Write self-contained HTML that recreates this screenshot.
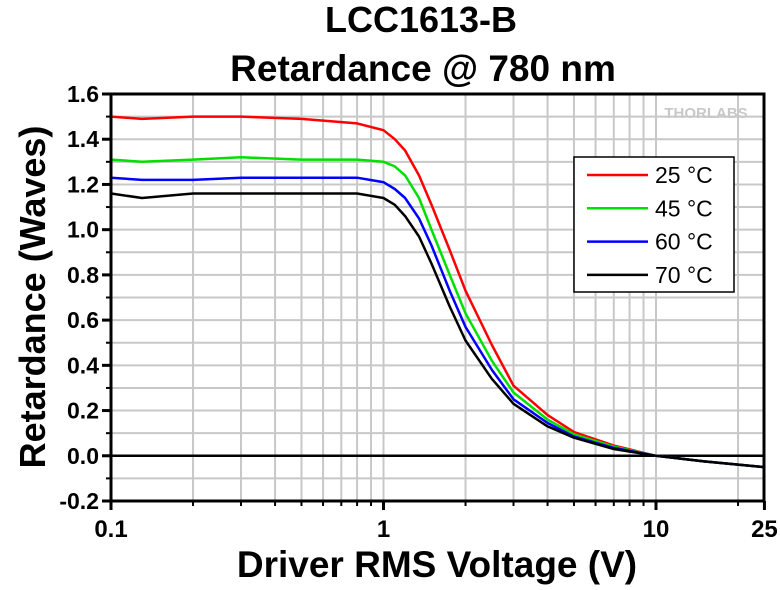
<!DOCTYPE html>
<html><head><meta charset="utf-8"><style>
body{margin:0;background:#fff;}
svg text{font-family:"Liberation Sans",Arial,sans-serif;}
</style></head><body>
<svg id="chart" width="780" height="585" xmlns="http://www.w3.org/2000/svg">
<text x="421" y="32" text-anchor="middle" font-size="36" font-weight="bold">LCC1613-B</text>
<text x="423" y="81" text-anchor="middle" font-size="37" font-weight="bold">Retardance @ 780 nm</text>
<g id="grid"></g>
<g id="series"></g>
<g id="axes"></g>
<text x="706" y="118" text-anchor="middle" font-size="15" font-weight="bold" fill="#c8c8c8">THORLABS</text>
<text transform="translate(45,297) rotate(-90)" text-anchor="middle" font-size="36" font-weight="bold">Retardance (Waves)</text>
<text x="437" y="577" text-anchor="middle" font-size="37" font-weight="bold">Driver RMS Voltage (V)</text>
<g id="legend">
<rect x="574" y="157" width="160" height="135" fill="#fff" stroke="#000" stroke-width="1.5"/>
</g>
</svg>
<script>
const voltages = [0.1,0.13,0.2,0.3,0.5,0.8,1.0,1.1,1.2,1.35,1.5,1.75,2,2.5,3,4,5,7,10,15,25];
const labels = ["25 °C","45 °C","60 °C","70 °C"];
const colors = ["#ff0000","#00e000","#0000ff","#000000"];
const s25 = [1.50,1.49,1.50,1.50,1.49,1.47,1.44,1.40,1.35,1.24,1.11,0.91,0.73,0.49,0.31,0.18,0.105,0.045,0.0,-0.025,-0.05];
const s45 = [1.31,1.30,1.31,1.32,1.31,1.31,1.30,1.28,1.24,1.14,1.00,0.80,0.63,0.42,0.28,0.16,0.095,0.04,0.0,-0.025,-0.05];
const s60 = [1.23,1.22,1.22,1.23,1.23,1.23,1.21,1.18,1.14,1.05,0.93,0.73,0.57,0.38,0.25,0.145,0.085,0.035,0.0,-0.025,-0.05];
const s70 = [1.16,1.14,1.16,1.16,1.16,1.16,1.14,1.11,1.06,0.97,0.85,0.66,0.51,0.34,0.23,0.13,0.08,0.03,0.0,-0.025,-0.05];
const allSeries = [s25,s45,s60,s70];
const yTicks = [-0.2,0.0,0.2,0.4,0.6,0.8,1.0,1.2,1.4,1.6];
const xTickLabels = ["0.1","1","10","25"];
const xTickVals = [0.1,1,10,25];

const L=111,R=764,T=94,B=501,dec=272.5;
const X=v=>L+(Math.log10(v)+1)*dec;
const Y=v=>T+(1.6-v)/1.8*(B-T);
const NS="http://www.w3.org/2000/svg";
function mk(tag,attrs,parent){const e=document.createElementNS(NS,tag);for(const k in attrs)e.setAttribute(k,attrs[k]);parent.appendChild(e);return e;}
const grid=document.getElementById('grid'),axes=document.getElementById('axes'),ser=document.getElementById('series'),leg=document.getElementById('legend');
for(let d=0.1;d<30;d*=10){for(let m=1;m<10;m++){const v=d*m;if(v<=0.1001||v>25)continue;const x=X(v);
const g=mk('line',{x1:x,x2:x,y1:T,y2:B,stroke:'#c8c8c8','stroke-width':2},grid);
}}
for(let i=-1;i<16;i++){const v=i/10;if(v===0)continue;const y=Y(v);
const g=mk('line',{x1:L,x2:R,y1:y,y2:y,stroke:'#c8c8c8','stroke-width':2},grid);
}
const z=mk('line',{x1:L,x2:R,y1:Y(0),y2:Y(0),stroke:'#000','stroke-width':2.5},grid);

allSeries.forEach((s,i)=>{const pts=s.map((v,j)=>X(voltages[j]).toFixed(1)+','+Y(v).toFixed(1)).join(' ');
const p=mk('polyline',{points:pts,fill:'none',stroke:colors[i],'stroke-width':2.5,'stroke-linejoin':'round'},ser);
});
const f=mk('rect',{x:L,y:T,width:R-L,height:B-T,fill:'none',stroke:'#000','stroke-width':3},axes);

yTicks.forEach(v=>{const y=Y(v);mk('line',{x1:L-9,x2:L,y1:y,y2:y,stroke:'#000','stroke-width':3},axes);
const t=mk('text',{x:L-12,y:y+8,'text-anchor':'end','font-size':23,'font-weight':'bold'},axes);t.textContent=v.toFixed(1);
});
for(let i=0;i<9;i++){mk('line',{x1:L-5,x2:L,y1:Y(-0.1+i*0.2),y2:Y(-0.1+i*0.2),stroke:'#000','stroke-width':2},axes);}
for(let d=0.1;d<30;d*=10){for(let m=2;m<10;m++){const v=d*m;if(v>25)continue;mk('line',{x1:X(v),x2:X(v),y1:B,y2:B+5,stroke:'#000','stroke-width':2},axes);}}
xTickVals.forEach((v,i)=>{const x=X(v);mk('line',{x1:x,x2:x,y1:B,y2:B+9,stroke:'#000','stroke-width':3},axes);
const t=mk('text',{x:x,y:B+36,'text-anchor':'middle','font-size':24,'font-weight':'bold'},axes);t.textContent=xTickLabels[i];
});
labels.forEach((lb,i)=>{const y=175+i*33.3;
const l=mk('line',{x1:587,x2:648,y1:y,y2:y,stroke:colors[i],'stroke-width':2.5},leg);

const t=mk('text',{x:655,y:y+8,'font-size':23},leg);t.textContent=lb;
});
</script>
</body></html>
